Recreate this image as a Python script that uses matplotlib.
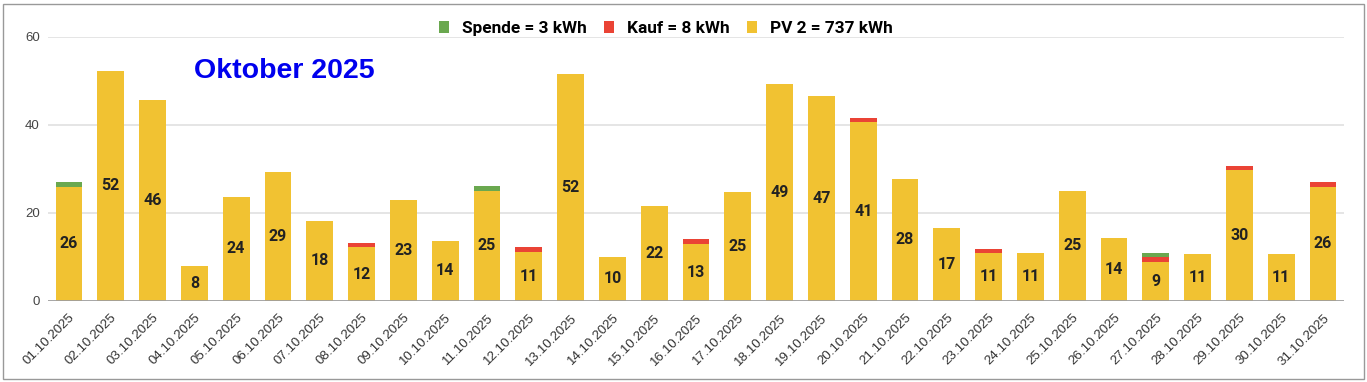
import matplotlib
matplotlib.use("Agg")
import matplotlib.pyplot as plt
from matplotlib.patches import Patch, Rectangle
from matplotlib.transforms import ScaledTranslation
import numpy as np

days = [f"{d:02d}.10.2025" for d in range(1, 32)]
pv = [25.9, 52.3, 45.6, 7.9, 23.6, 29.2, 18.2, 12.1, 22.8, 13.6,
      25.0, 11.1, 51.6, 9.9, 21.6, 12.95, 24.8, 49.25, 46.6, 40.6,
      27.6, 16.6, 10.8, 10.8, 25.0, 14.25, 8.9, 10.6, 29.6, 10.6, 25.9]
kauf = [0, 0, 0, 0, 0, 0, 0, 1, 0, 0,
        0, 1, 0, 0, 0, 1, 0, 0, 0, 1,
        0, 0, 1, 0, 0, 0, 1, 0, 1, 0, 1]
spende = [1, 0, 0, 0, 0, 0, 0, 0, 0, 0,
          1, 0, 0, 0, 0, 0, 0, 0, 0, 0,
          0, 0, 0, 0, 0, 0, 1, 0, 0, 0, 0]
series_names = ["Spende = 3 kWh", "Kauf = 8 kWh", "PV 2 = 737 kWh"]
title_text = "Oktober 2025"

c_pv = "#f1c232"
c_kauf = "#ea4335"
c_spende = "#6aa84f"

W, H = 1367, 382
fig = plt.figure(figsize=(W / 100, H / 100), dpi=100)
ax = fig.add_axes([48 / W, (H - 300.7) / H, 1296 / W, 264 / H])

x = np.arange(len(days))
pv_a = np.array(pv)
kauf_a = np.array(kauf, dtype=float)
sp_a = np.array(spende, dtype=float)

bw = 0.64
ax.bar(x, pv_a, width=bw, color=c_pv, zorder=3)
ax.bar(x, kauf_a, width=bw, bottom=pv_a, color=c_kauf, zorder=3)
ax.bar(x, sp_a, width=bw, bottom=pv_a + kauf_a, color=c_spende, zorder=3)

for xi, v in zip(x, pv_a):
    ax.text(xi, v / 2, f"{v:.0f}", ha="center", va="center",
            fontsize=11.5, fontweight="bold", family="Roboto", color="#222222", zorder=4)

ax.set_xlim(-0.5, len(days) - 0.5)
ax.set_ylim(0, 60)
ax.set_yticks([0, 20, 40, 60])
ax.set_yticklabels(["0", "20", "40", "60"], family="Liberation Sans", fontsize=9.5, color="#444444")
for y in [20, 40, 60]:
    ax.axhline(y, color="#e0e0e0", lw=1.2, zorder=1)
ax.axhline(0, color="#9e9e9e", lw=2, zorder=5)

ax.set_xticks(x)
ax.set_xticklabels(days, rotation=45, ha="right", rotation_mode="anchor",
                   family="Liberation Sans", fontsize=9.6, color="#333333")
off = ScaledTranslation(6 / 100, 0, fig.dpi_scale_trans)
for lab in ax.get_xticklabels():
    lab.set_transform(lab.get_transform() + off)
ax.tick_params(axis="both", length=0)
ax.tick_params(axis="y", pad=6)
ax.tick_params(axis="x", pad=8)
for s in ax.spines.values():
    s.set_visible(False)

ax.text(0.182, 0.87, title_text, transform=ax.transAxes, ha="center", va="center",
        fontsize=20.5, fontweight="bold", family="Liberation Sans", color="#0000ee")

handles = [Patch(facecolor=c_spende, edgecolor="none"),
           Patch(facecolor=c_kauf, edgecolor="none"),
           Patch(facecolor=c_pv, edgecolor="none")]
fig.legend(handles, series_names, loc="center", bbox_to_anchor=(666 / W, (H - 28.5) / H),
           ncol=3, frameon=False, handlelength=0.58, handleheight=0.68,
           handletextpad=0.75, columnspacing=1.0,
           prop={"family": "Roboto", "weight": "bold", "size": 12.4})

fig.patches.append(Rectangle((3 / W, 3 / H), (1364 - 3) / W, (379 - 4) / H,
                             transform=fig.transFigure, fill=False,
                             edgecolor="#999999", lw=1))

fig.savefig("out.png", dpi=100)
